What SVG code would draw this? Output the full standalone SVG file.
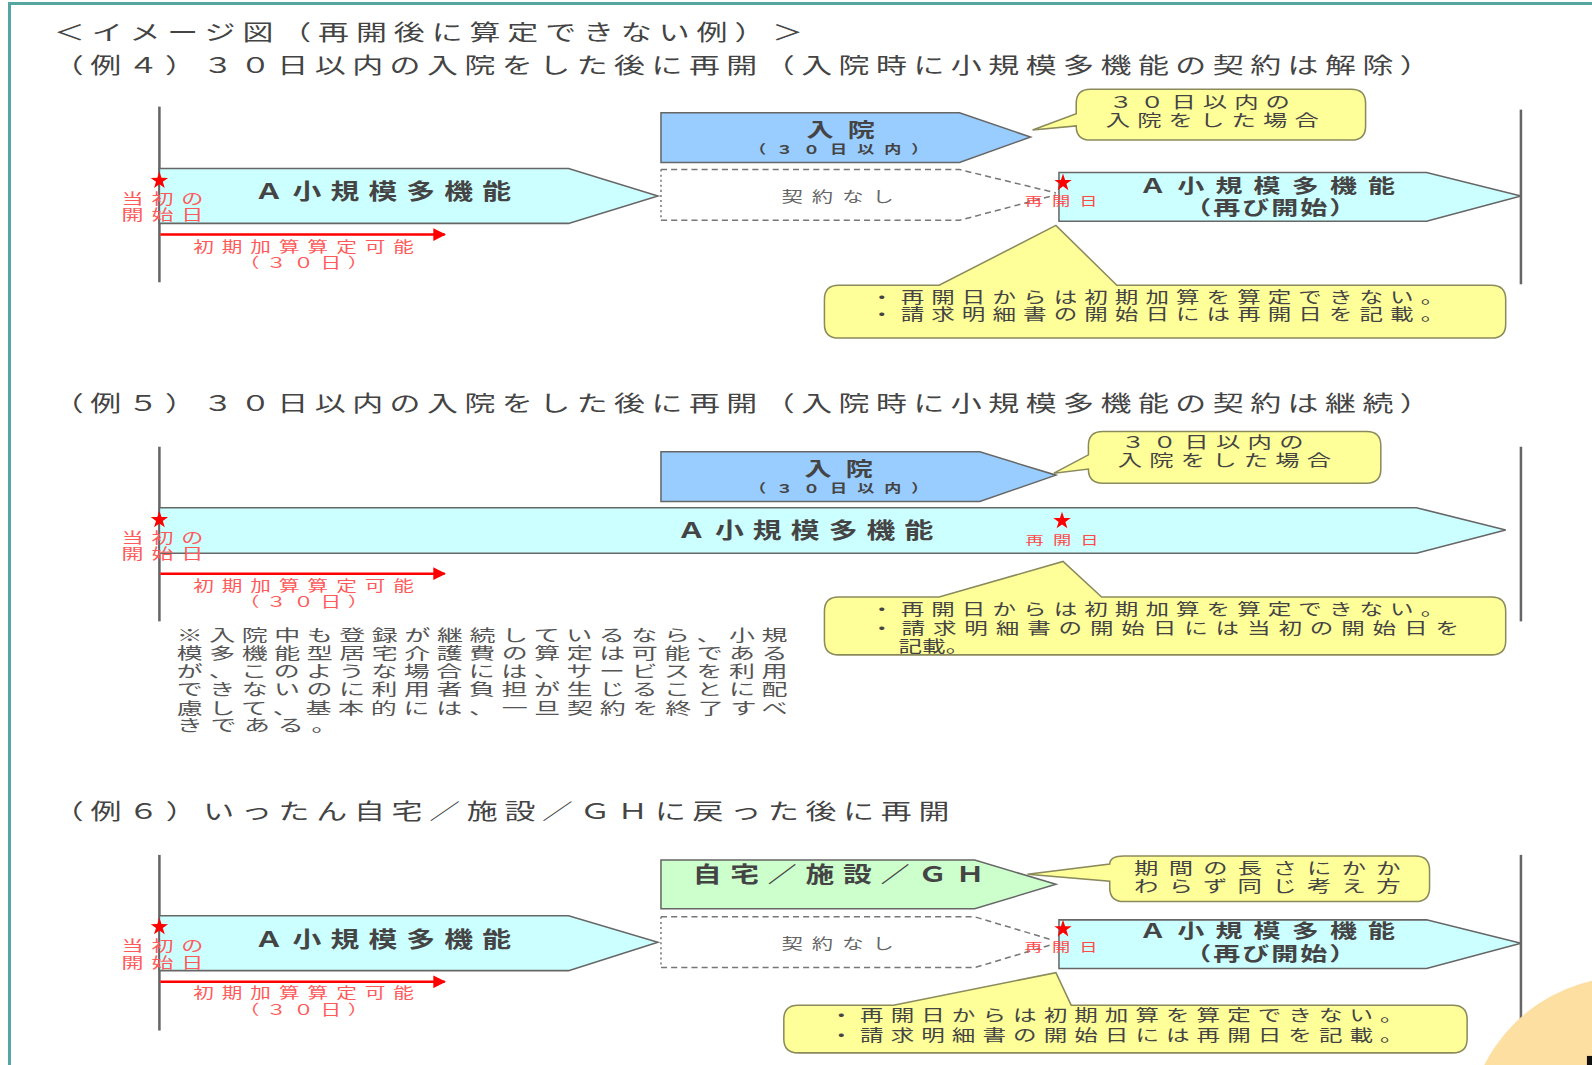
<svg xmlns="http://www.w3.org/2000/svg" xmlns:xlink="http://www.w3.org/1999/xlink" width="1592" height="1065" viewBox="0 0 1592 1065">
<defs>
<style>
text{font-family:"Noto Sans CJK JP","Noto Sans CJK SC","DejaVu Sans",sans-serif}
.h{font-size:21px;fill:#444}
.lbl{font-size:21px;fill:#444;text-anchor:middle;font-weight:bold}
.lbl2{font-size:19px;fill:#444;text-anchor:middle;font-weight:bold}
.sub{font-size:12px;fill:#444;text-anchor:middle;font-weight:bold}
.gray{font-size:15px;fill:#666;text-anchor:middle}
.red{font-size:14px;fill:#ff5a5a;text-anchor:middle}
.reds{font-size:14px;fill:#ff5a5a;text-anchor:middle}
.redxs{font-size:12px;fill:#ff4a4a;text-anchor:middle}
.co{font-size:16px;fill:#444}
.cb{font-size:16px;fill:#444}
.note{font-size:16px;fill:#555}
.cyan{fill:#ccffff;stroke:#666;stroke-width:1.5}
.blue{fill:#99ccff;stroke:#666;stroke-width:1.5}
.green{fill:#ccffcc;stroke:#666;stroke-width:1.5}
.call{fill:#ffff99;stroke:#8a8a5c;stroke-width:1.5}
.dash{fill:none;stroke:#777;stroke-width:1.5;stroke-dasharray:6 4}
.dot{fill:none;stroke:#777;stroke-width:1.5;stroke-dasharray:2 3}
.axis{stroke:#666;stroke-width:2.5}
.rarrow{stroke:#ff0000;stroke-width:2.5;marker-end:url(#ah)}
</style>
<marker id="ah" viewBox="0 0 10 10" refX="9" refY="5" markerWidth="5" markerHeight="5" orient="auto" markerUnits="strokeWidth">
<path d="M0,0 L10,5 L0,10 Z" fill="#ff0000"/>
</marker>
<path id="star" d="M0,-9 L2.06,-2.83 L8.56,-2.78 L3.33,1.08 L5.29,7.28 L0,3.5 L-5.29,7.28 L-3.33,1.08 L-8.56,-2.78 L-2.06,-2.83 Z" fill="#ff0000"/>
</defs>
<rect width="1592" height="1065" fill="#ffffff"/>
<path d="M9.5,1065 V3.5 H1592" fill="none" stroke="#55a6a3" stroke-width="3"/>
<g transform="scale(1.01531)">
<g id="headings">
<text class="h" transform="translate(53,39) scale(1.45,1)" textLength="509">＜イメージ図（再開後に算定できない例）＞</text>
<text class="h" transform="translate(52,72) scale(1.45,1)" textLength="936">（例４）３０日以内の入院をした後に再開（入院時に小規模多機能の契約は解除）</text>
<text class="h" transform="translate(52,405) scale(1.45,1)" textLength="936">（例５）３０日以内の入院をした後に再開（入院時に小規模多機能の契約は継続）</text>
<text class="h" transform="translate(52,807) scale(1.45,1)" textLength="609">（例６）いったん自宅／施設／ＧＨに戻った後に再開</text>
</g>
<g id="connectors">
<line class="axis" x1="157" y1="105" x2="157" y2="278"/>
<line class="axis" x1="1498" y1="108" x2="1498" y2="280"/>
<line class="axis" x1="157" y1="440" x2="157" y2="612"/>
<line class="axis" x1="1498" y1="440" x2="1498" y2="612"/>
<line class="axis" x1="157" y1="842" x2="157" y2="1015"/>
<line class="axis" x1="1498" y1="842" x2="1498" y2="1020"/>
<line class="rarrow" x1="158" y1="231" x2="438" y2="231"/>
<line class="rarrow" x1="158" y1="565" x2="438" y2="565"/>
<line class="rarrow" x1="158" y1="967" x2="438" y2="967"/>
</g>
<g id="ex4">
<g id="ex4-a1"><path class="cyan" d="M157,166 H560 L648,193 L560,220 H157 Z"/>
<text class="lbl" transform="translate(377,196) scale(1.35,1)" textLength="187">Ａ小規模多機能</text></g>
<g id="ex4-hosp"><path class="blue" d="M651,111 H945 L1015,135 L945,160 H651 Z"/>
<text class="lbl2" transform="translate(828,135) scale(1.4,1)" textLength="48">入院</text>
<text class="sub" transform="translate(826,152) scale(1.4,1)" textLength="126">（３０日以内）</text></g>
<g id="ex4-none"><path class="dot" d="M651,167 V217"/><path class="dash" d="M651,167 H945 L1040,190 M651,217 H945 L1040,192"/>
<text class="gray" transform="translate(825,199) scale(1.4,1)" textLength="79">契約なし</text></g>
<g id="ex4-a2"><path class="cyan" d="M1043,170 H1405 L1498,193 L1405,218 H1043 Z"/>
<text class="lbl2" transform="translate(1248,190) scale(1.4,1)" textLength="180">Ａ小規模多機能</text>
<text class="lbl2" transform="translate(1251,212) scale(1.4,1)" textLength="121">（再び開始）</text></g>
<g id="ex4-start"><use xlink:href="#star" x="157" y="178"/>
<text class="red" transform="translate(160,201) scale(1.55,1)" textLength="52">当初の</text>
<text class="red" transform="translate(160,217) scale(1.55,1)" textLength="52">開始日</text></g>
<g id="ex4-restart"><use xlink:href="#star" x="1047" y="180"/>
<text class="redxs" transform="translate(1045,203) scale(1.5,1)" textLength="48">再開日</text></g>
<g id="ex4-init"><text class="reds" transform="translate(299,248) scale(1.45,1)" textLength="150">初期加算算定可能</text>
<text class="reds" transform="translate(299,264) scale(1.45,1)" textLength="88">（３０日）</text></g>
<g id="ex4-call1"><path class="call" d="M1074,88 H1331 Q1345,88 1345,102 V124 Q1345,138 1331,138 H1074 Q1060,138 1060,124 L1017,128 L1060,112 V102 Q1060,88 1074,88 Z"/>
<text class="co" transform="translate(1092,106) scale(1.5,1)" textLength="119">３０日以内の</text>
<text class="co" transform="translate(1089,124) scale(1.5,1)" textLength="140">入院をした場合</text></g>
<g id="ex4-call2"><path class="call" d="M826,281 H925 L1040,222 L1100,281 H1469 Q1483,281 1483,295 V319 Q1483,333 1469,333 H826 Q812,333 812,319 V295 Q812,281 826,281 Z"/>
<text class="cb" transform="translate(857,298) scale(1.45,1)" textLength="390">・再開日からは初期加算を算定できない。</text>
<text class="cb" transform="translate(857,315) scale(1.45,1)" textLength="390">・請求明細書の開始日には再開日を記載。</text></g>
</g>
<g id="ex5">
<g id="ex5-hosp"><path class="blue" d="M651,445 H965 L1040,468 L965,494 H651 Z"/>
<text class="lbl2" transform="translate(826,469) scale(1.4,1)" textLength="48">入院</text>
<text class="sub" transform="translate(826,486) scale(1.4,1)" textLength="126">（３０日以内）</text></g>
<g id="ex5-a"><path class="cyan" d="M157,500 H1395 L1483,522 L1395,545 H157 Z"/>
<text class="lbl" transform="translate(793,530) scale(1.35,1)" textLength="187">Ａ小規模多機能</text></g>
<g id="ex5-start"><use xlink:href="#star" x="157" y="512"/>
<text class="red" transform="translate(160,535) scale(1.55,1)" textLength="52">当初の</text>
<text class="red" transform="translate(160,551) scale(1.55,1)" textLength="52">開始日</text></g>
<g id="ex5-restart"><use xlink:href="#star" x="1046" y="513"/>
<text class="redxs" transform="translate(1046,537) scale(1.5,1)" textLength="48">再開日</text></g>
<g id="ex5-init"><text class="reds" transform="translate(299,582) scale(1.45,1)" textLength="150">初期加算算定可能</text>
<text class="reds" transform="translate(299,598) scale(1.45,1)" textLength="88">（３０日）</text></g>
<g id="ex5-call1"><path class="call" d="M1086,425 H1346 Q1360,425 1360,439 V462 Q1360,476 1346,476 H1086 Q1072,476 1072,462 L1038,466 L1072,448 V439 Q1072,425 1086,425 Z"/>
<text class="co" transform="translate(1104,441) scale(1.5,1)" textLength="120">３０日以内の</text>
<text class="co" transform="translate(1101,459) scale(1.5,1)" textLength="140">入院をした場合</text></g>
<g id="ex5-call2"><path class="call" d="M826,588 H925 L1047,553 L1085,588 H1469 Q1483,588 1483,602 V631 Q1483,645 1469,645 H826 Q812,645 812,631 V602 Q812,588 826,588 Z"/>
<text class="cb" transform="translate(857,606) scale(1.45,1)" textLength="390">・再開日からは初期加算を算定できない。</text>
<text class="cb" transform="translate(857,624) scale(1.45,1)" textLength="400">・請求明細書の開始日には当初の開始日を</text>
<text class="cb" transform="translate(885,642) scale(1.45,1)" textLength="48">記載。</text></g>
<g id="ex5-note">
<text class="note" transform="translate(174,631) scale(1.6,1)" textLength="376">※入院中も登録が継続しているなら、小規</text>
<text class="note" transform="translate(174,649) scale(1.6,1)" textLength="376">模多機能型居宅介護費の算定は可能である</text>
<text class="note" transform="translate(174,667) scale(1.6,1)" textLength="376">が、このような場合には、サービスを利用</text>
<text class="note" transform="translate(174,685) scale(1.6,1)" textLength="376">できないのに利用者負担が生じることに配</text>
<text class="note" transform="translate(174,703) scale(1.6,1)" textLength="376">慮して、基本的には、一旦契約を終了すべ</text>
<text class="note" transform="translate(174,720) scale(1.6,1)" textLength="99">きである。</text>
</g>
</g>
<g id="ex6">
<g id="ex6-home"><path class="green" d="M651,847 H960 L1040,871 L960,895 H651 Z"/>
<text class="lbl" transform="translate(826,869) scale(1.35,1)" textLength="213">自宅／施設／ＧＨ</text></g>
<g id="ex6-a1"><path class="cyan" d="M157,902 H560 L648,928 L560,956 H157 Z"/>
<text class="lbl" transform="translate(377,933) scale(1.35,1)" textLength="187">Ａ小規模多機能</text></g>
<g id="ex6-none"><path class="dot" d="M651,903 V953"/><path class="dash" d="M651,903 H960 L1037,926 M651,953 H960 L1037,930"/>
<text class="gray" transform="translate(825,935) scale(1.4,1)" textLength="79">契約なし</text></g>
<g id="ex6-a2"><path class="cyan" d="M1043,906 H1405 L1498,929 L1405,954 H1043 Z"/>
<text class="lbl2" transform="translate(1248,924) scale(1.4,1)" textLength="180">Ａ小規模多機能</text>
<text class="lbl2" transform="translate(1251,947) scale(1.4,1)" textLength="121">（再び開始）</text></g>
<g id="ex6-start"><use xlink:href="#star" x="157" y="913"/>
<text class="red" transform="translate(160,937) scale(1.55,1)" textLength="52">当初の</text>
<text class="red" transform="translate(160,953) scale(1.55,1)" textLength="52">開始日</text></g>
<g id="ex6-restart"><use xlink:href="#star" x="1047" y="915"/>
<text class="redxs" transform="translate(1045,938) scale(1.5,1)" textLength="48">再開日</text></g>
<g id="ex6-init"><text class="reds" transform="translate(299,983) scale(1.45,1)" textLength="150">初期加算算定可能</text>
<text class="reds" transform="translate(299,1000) scale(1.45,1)" textLength="88">（３０日）</text></g>
<g id="ex6-call1"><path class="call" d="M1107,843 H1394 Q1408,843 1408,857 V874 Q1408,888 1394,888 H1107 Q1093,888 1093,874 V868 L1012,861 L1093,851 Q1093,843 1107,843 Z"/>
<text class="co" transform="translate(1117,861) scale(1.5,1)" textLength="175">期間の長さにかか</text>
<text class="co" transform="translate(1117,879) scale(1.5,1)" textLength="175">わらず同じ考え方</text></g>
<g id="ex6-call2"><path class="call" d="M786,990 H880 L1040,958 L1055,990 H1431 Q1445,990 1445,1004 V1023 Q1445,1037 1431,1037 H786 Q772,1037 772,1023 V1004 Q772,990 786,990 Z"/>
<text class="cb" transform="translate(817,1006) scale(1.45,1)" textLength="390">・再開日からは初期加算を算定できない。</text>
<text class="cb" transform="translate(817,1025) scale(1.45,1)" textLength="390">・請求明細書の開始日には再開日を記載。</text></g>
</g>
<g id="corner">
<circle cx="1603" cy="1120" r="158" fill="#fddfa1"/>
<rect x="1563" y="1040" width="8" height="12" fill="#111"/>
</g>
</g>
</svg>
